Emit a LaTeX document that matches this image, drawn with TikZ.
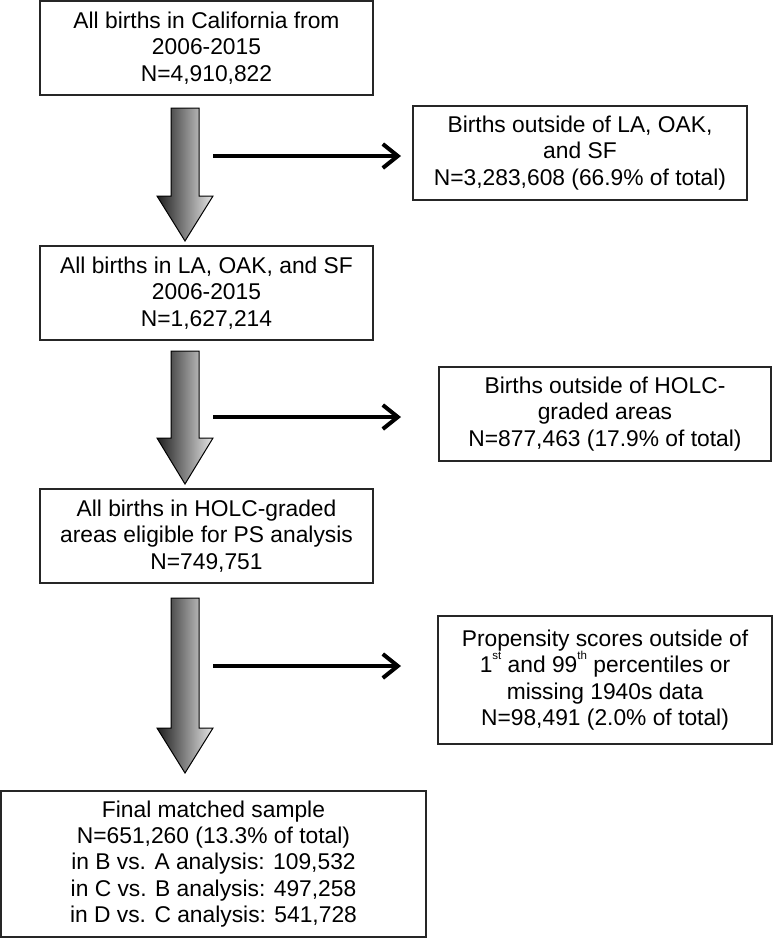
\documentclass[tikz,border=0pt]{standalone}
\usepackage{fontspec}
\setmainfont{Liberation Sans}
\usetikzlibrary{arrows.meta}
\newcommand{\supx}[1]{\smash{\raisebox{13pt}{\fontsize{11.5}{11.5}\selectfont #1}}}
\begin{document}
\begin{tikzpicture}[x=1pt,y=-1pt,
  box/.style={draw=black!85, line width=1.3pt, inner sep=0pt, align=center,
    font=\fontsize{22.8}{26.3}\selectfont},
  bigarrow/.style={left color=black!88, right color=black!10, draw=black, line width=1pt, line join=miter},
  sidearrow/.style={line width=4pt, -{Straight Barb[length=15pt,width=24pt]}}]
\useasboundingbox (0,0) rectangle (773,938);

% boxes
\node[box, minimum width=333pt, minimum height=94pt] (b1) at (206.5,48)
  {All births in California from\\2006-2015\\N=4,910,822};
\node[box, minimum width=334pt, minimum height=94pt] (b2) at (580,153)
  {Births outside of LA, OAK,\\and SF\\N=3,283,608 (66.9\% of total)};
\node[box, minimum width=333pt, minimum height=94pt] (b3) at (206.5,293)
  {All births in LA, OAK, and SF\\2006-2015\\N=1,627,214};
\node[box, minimum width=332pt, minimum height=94pt] (b4) at (605,414)
  {Births outside of HOLC-\\graded areas\\N=877,463 (17.9\% of total)};
\node[box, minimum width=333pt, minimum height=94pt] (b5) at (206.5,536)
  {All births in HOLC-graded\\areas eligible for PS analysis\\N=749,751};
\node[box, minimum width=334pt, minimum height=128pt] (b6) at (605,680)
  {Propensity scores outside of\\1\supx{st} and 99\supx{th} percentiles or\\missing 1940s data\\N=98,491 (2.0\% of total)};
\node[box, minimum width=425pt, minimum height=146pt] (b7) at (213.5,864)
  {Final matched sample\\N=651,260 (13.3\% of total)\\in B vs. A analysis: 109,532\\in C vs. B analysis: 497,258\\in D vs. C analysis: 541,728};

% big shaded down arrows
\shade[bigarrow] (171,108) -- (199,108) -- (199,196) -- (213,196) -- (185,241) -- (157,196) -- (171,196) -- cycle;
\shade[bigarrow] (171,351) -- (199,351) -- (199,438) -- (213,438) -- (185,484) -- (157,438) -- (171,438) -- cycle;
\shade[bigarrow] (171,598) -- (199,598) -- (199,728) -- (213,728) -- (185,773) -- (157,728) -- (171,728) -- cycle;

% side arrows
\coordinate (s1) at (213,156);
\coordinate (e1) at (401,156);
\coordinate (s2) at (213,417);
\coordinate (e2) at (401,417);
\coordinate (s3) at (213,666);
\coordinate (e3) at (401,666);
\draw[sidearrow] (s1) -- (e1);
\draw[sidearrow] (s2) -- (e2);
\draw[sidearrow] (s3) -- (e3);
\end{tikzpicture}
\end{document}
